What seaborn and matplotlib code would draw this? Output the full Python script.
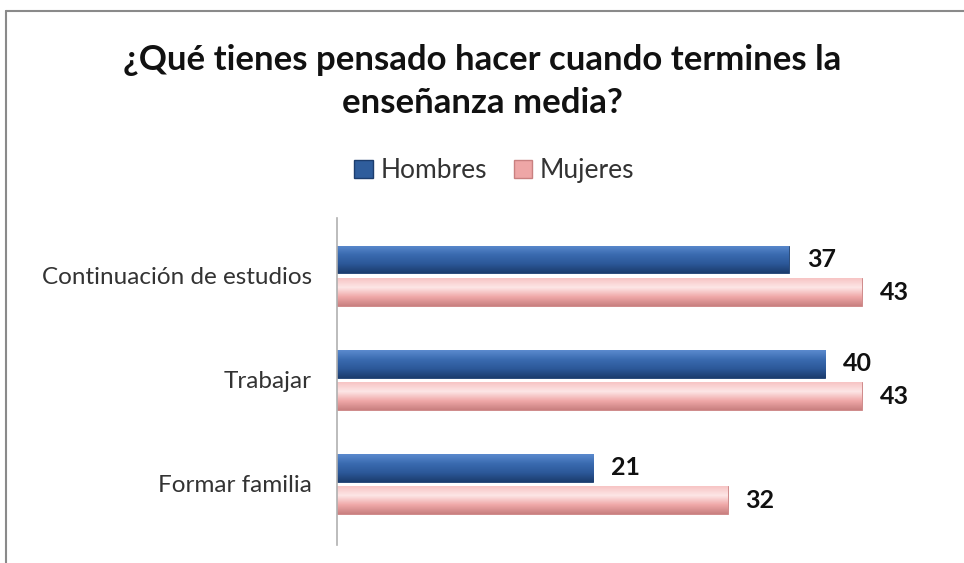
import matplotlib
matplotlib.use("Agg")
import matplotlib.pyplot as plt
from matplotlib.lines import Line2D
from matplotlib.patches import Patch
import seaborn as sns
import numpy as np
import pandas as pd

categorias = ["Continuación de estudios", "Trabajar", "Formar familia"]
hombres = [37, 40, 21]
mujeres = [43, 43, 32]
series = ["Hombres", "Mujeres"]

df = pd.DataFrame({
    "categoria": categorias * 2,
    "valor": hombres + mujeres,
    "sexo": ["Hombres"] * 3 + ["Mujeres"] * 3,
})

# colores (top, medio, abajo) para simular el degradado de Excel
grad = {
    "Hombres": ["#5b8ace", "#3a6bb0", "#2c5899", "#1c3d6e"],
    "Mujeres": ["#f7c4c4", "#fde6e6", "#f0a9a9", "#c98080"],
}
base = {"Hombres": "#2f5d9c", "Mujeres": "#eea6a6"}

sns.set_theme(style="white")
plt.rcParams["font.family"] = ["Lato", "DejaVu Sans"]

fig = plt.figure(figsize=(9.64, 5.63), dpi=100)
ax = fig.add_axes([0.3496, 0.032, 0.633, 0.581])

sns.barplot(data=df, y="categoria", x="valor", hue="sexo", order=categorias,
            hue_order=series, palette=base, orient="h", width=0.62, gap=0.15,
            legend=False, ax=ax, saturation=1)

# degradado vertical en cada barra
for cont, s in zip(ax.containers, series):
    cmap = matplotlib.colors.LinearSegmentedColormap.from_list(s, grad[s])
    for p in cont.patches:
        x0, y0 = p.get_x(), p.get_y()
        w, h = p.get_width(), p.get_height()
        g = np.linspace(0, 1, 64).reshape(-1, 1)
        im = ax.imshow(g, cmap=cmap, aspect="auto", extent=[x0, x0 + w, y0 + h, y0],
                       zorder=p.get_zorder() + 0.1, interpolation="bilinear")
        im.set_clip_path(p)
        p.set_edgecolor(grad[s][3])
        p.set_linewidth(0.6)
    ax.bar_label(cont, padding=13, fontsize=18, fontweight="bold", color="#111111")

ax.set_xlim(0, 50)
ax.set_ylim(2.587, -0.558)
ax.set_xlabel("")
ax.set_ylabel("")
ax.set_xticks([])
ax.tick_params(axis="y", length=0, pad=18, labelsize=17.5, labelcolor="#333333")
for sp in ["top", "right", "bottom"]:
    ax.spines[sp].set_visible(False)
ax.spines["left"].set_color("#b0b0b0")
ax.spines["left"].set_linewidth(1.2)

fig.text(0.5, 0.855, "¿Qué tienes pensado hacer cuando termines la\nenseñanza media?",
         ha="center", va="center", fontsize=25, fontweight="bold", color="#111111",
         linespacing=1.4)

handles = [Patch(facecolor=base[s], edgecolor=grad[s][3], label=s) for s in series]
fig.legend(handles=handles, loc="center", bbox_to_anchor=(0.513, 0.697), ncol=2,
           frameon=False, fontsize=19, handlelength=0.7, handleheight=0.7,
           handletextpad=0.3, columnspacing=1.0, labelcolor="#333333")

# borde del gráfico
fig.add_artist(Line2D([0.006, 1.0], [0.981, 0.981], color="#8a8a8a", lw=1.5))
fig.add_artist(Line2D([0.006, 0.006], [0.0, 0.981], color="#8a8a8a", lw=1.5))

fig.savefig("out.png", dpi=100)
